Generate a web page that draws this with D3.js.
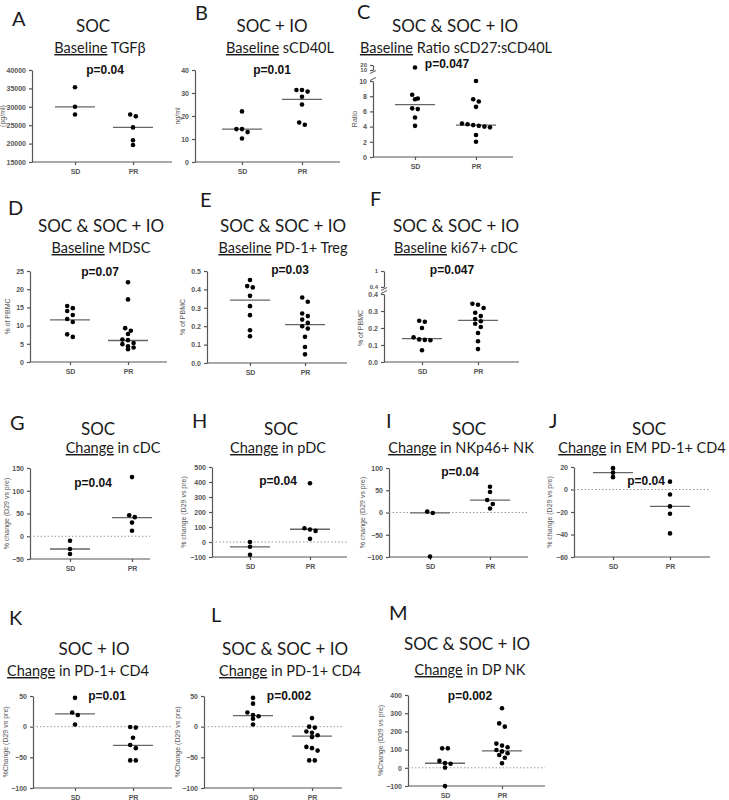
<!DOCTYPE html>
<html>
<head>
<meta charset="utf-8">
<script src="https://cdn.jsdelivr.net/npm/d3@7"></script>
<style>
  body { margin: 0; background: #fff; }
  .ttl { font-family: Lato, "Open Sans", sans-serif; fill: #1a1a1a; }
  .pv { font-family: "Liberation Sans", Arial, sans-serif; font-weight: bold; fill: #111; }
  .ax { color: #555; }
  .ax text { font-family: "Liberation Sans", Arial, sans-serif; font-weight: bold; font-size: 7px; fill: #555; }
  .ax path, .ax line { stroke: #555; stroke-width: 1.2; }
</style>
</head>
<body>
<svg id="fig" width="729" height="800"></svg>
<script>
var groups = ["SD", "PR"];

// A - baseline TGFb (SOC)
var tgfbSD = [35300, 30000, 27900];
var tgfbPR = [27900, 27400, 24400, 20900, 19600];
var tgfbMed = [30000, 24400];
var tgfbTicks = [15000, 20000, 25000, 30000, 35000, 40000];

// B - baseline sCD40L (SOC + IO)
var scd40SD = [22, 14.3, 13, 14.3, 10.2];
var scd40PR = [31.3, 30.6, 31.3, 28.4, 25, 16.2, 17.2];
var scd40Med = [14.3, 27.2];
var scd40Ticks = [0, 10, 20, 30, 40];

// C - ratio sCD27:sCD40L
var ratioSD = [15, 8.2, 7.7, 7.6, 6.4, 6.3, 5.2, 4.1];
var ratioPR = [10, 7.6, 7.3, 6.6, 4.4, 4.3, 4.2, 4.1, 4.0, 3.9, 2.9, 2.0];
var ratioMed = [6.9, 4.2];
var ratioTicks = [0, 2, 4, 6, 8, 10];
var ratioTicksTop = [10, 20];

// D - MDSC
var mdscSD = [15.4, 14.8, 14.0, 12.9, 11.8, 11.0, 7.6, 6.9];
var mdscPR = [21.9, 17.2, 9.3, 8.6, 7.7, 6.2, 6.0, 5.2, 4.9, 4.3, 4.0, 3.5];
var mdscMed = [11.6, 5.9];
var mdscTicks = [0, 5, 10, 15, 20, 25];

// E - PD-1+ Treg
var tregSD = [0.451, 0.418, 0.411, 0.365, 0.309, 0.26, 0.178, 0.145];
var tregPR = [0.356, 0.333, 0.269, 0.255, 0.236, 0.218, 0.200, 0.187, 0.142, 0.087, 0.047];
var tregMed = [0.342, 0.209];
var tregTicks = [0, 0.1, 0.2, 0.3, 0.4, 0.5];

// F - ki67+ cDC
var kiSD = [0.243, 0.237, 0.200, 0.145, 0.133, 0.130, 0.128, 0.069];
var kiPR = [0.343, 0.337, 0.318, 0.29, 0.27, 0.253, 0.24, 0.225, 0.206, 0.171, 0.122, 0.076];
var kiMed = [0.137, 0.245];
var kiTicks = [0, 0.1, 0.2, 0.3, 0.4];
var kiTicksTop = [0.4, 1];

// G - change in cDC
var cdcSD = [-10, -28, -39];
var cdcPR = [130, 46, 42, 30, 12];
var cdcMed = [-28, 41];
var cdcTicks = [-50, 0, 50, 100, 150];

// H - change in pDC
var pdcSD = [0, -32, -85];
var pdcPR = [392, 92, 83, 74, 21];
var pdcMed = [-32, 85];
var pdcTicks = [-100, 0, 100, 200, 300, 400, 500];

// I - change in NKp46+ NK
var nkSD = [2, -1, -99];
var nkPR = [58, 46, 28, 19, 9];
var nkMed = [-1, 28];
var nkTicks = [-100, -50, 0, 50, 100];

// J - change in EM PD-1+ CD4
var emSD = [19, 15, 11];
var emPR = [7, -4.5, -15, -21.5, -39];
var emMed = [15, -15];
var emTicks = [-60, -40, -20, 0, 20];

// K - change in PD-1+ CD4 (SOC + IO)
var pd1SD = [47, 23, 19, 3.6];
var pd1PR = [-0.5, -1.5, -18, -30, -35, -55, -55];
var pd1Med = [21, -30.5];
var pd1Ticks = [-100, -50, 0, 50];

// L - change in PD-1+ CD4 (all)
var pd1allSD = [47, 37.5, 23, 19, 17, 13, 3.6];
var pd1allPR = [14, 0, -1.5, -8, -10, -14, -17, -33, -35, -39, -55, -55];
var pd1allMed = [18, -15.5];

// M - change in DP NK
var dpSD = [107, 107, 38, 26, 22, 1, -100];
var dpPR = [327, 244, 226, 133, 122, 113, 98, 90, 80, 70, 55, 25];
var dpMed = [25, 93];
var dpTicks = [-100, 0, 100, 200, 300, 400];

var svg = d3.select("#fig");

var panels = [
  { letter: "A", lx: 12, ly: 26, title: "SOC", tx: 93, ty: 32, head: "Baseline", sub: "TGFβ", sx: 100, sy: 53,
    p: "p=0.04", px: 105, py: 74, x0: 32, x1: 172, sdX: 75, prX: 133, yB: 162, yT: 70, dom: [15000, 40000],
    ticks: tgfbTicks, fmt: "d", ylab: "(pg/ml)", lOff: 27, sd: tgfbSD, pr: tgfbPR, med: tgfbMed },
  { letter: "B", lx: 195, ly: 20, title: "SOC + IO", tx: 272, ty: 32, head: "Baseline", sub: "sCD40L", sx: 280, sy: 53,
    p: "p=0.01", px: 272, py: 74, x0: 195, x1: 340, sdX: 242, prX: 302, yB: 162, yT: 70, dom: [0, 40],
    ticks: scd40Ticks, ylab: "ng/ml", lOff: 15, sd: scd40SD, pr: scd40PR, med: scd40Med },
  { letter: "C", lx: 357, ly: 19, title: "SOC & SOC + IO", tx: 455, ty: 32, head: "Baseline", sub: "Ratio sCD27:sCD40L", sx: 456, sy: 53,
    p: "p=0.047", px: 447, py: 68, x0: 373, x1: 513, sdX: 415, prX: 476, yB: 157, yT: 81, dom: [0, 10],
    ticks: ratioTicks, ylab: "Ratio", lOff: 16, sd: ratioSD, pr: ratioPR, med: ratioMed,
    brk: { v: 10, dom: [10, 20], yB: 70, yT: 65, ticks: ratioTicksTop } },
  { letter: "D", lx: 8, ly: 215, title: "SOC & SOC + IO", tx: 101, ty: 232, head: "Baseline", sub: "MDSC", sx: 101, sy: 253,
    p: "p=0.07", px: 100, py: 276, x0: 30, x1: 167, sdX: 70, prX: 128, yB: 362, yT: 271, dom: [0, 25],
    ticks: mdscTicks, ylab: "% of PBMC", lOff: 20, sd: mdscSD, pr: mdscPR, med: mdscMed },
  { letter: "E", lx: 200, ly: 207, title: "SOC & SOC + IO", tx: 283, ty: 232, head: "Baseline", sub: "PD-1+ Treg", sx: 283, sy: 253,
    p: "p=0.03", px: 290, py: 274, x0: 207, x1: 347, sdX: 250, prX: 305, yB: 363, yT: 271, dom: [0, 0.5],
    ticks: tregTicks, fmt: ".1f", ylab: "% of PBMC", lOff: 22, sd: tregSD, pr: tregPR, med: tregMed },
  { letter: "F", lx: 370, ly: 206, title: "SOC & SOC + IO", tx: 456, ty: 232, head: "Baseline", sub: "ki67+ cDC", sx: 456, sy: 253,
    p: "p=0.047", px: 452, py: 274, x0: 384, x1: 519, sdX: 422, prX: 478, yB: 362, yT: 294, dom: [0, 0.4],
    ticks: kiTicks, fmt: ".1f", ylab: "% of PBMC", lOff: 21, sd: kiSD, pr: kiPR, med: kiMed,
    brk: { v: 0.4, dom: [0.4, 1], yB: 287, yT: 271, ticks: kiTicksTop } },
  { letter: "G", lx: 10, ly: 430, title: "SOC", tx: 98, ty: 435, head: "Change", sub: "in cDC", sx: 113, sy: 453,
    p: "p=0.04", px: 93, py: 487, x0: 30, x1: 150, sdX: 70, prX: 132, yB: 559, yT: 468, dom: [-50, 150],
    ticks: cdcTicks, ylab: "% change (D29 vs pre)", lOff: 21, zero: true, sd: cdcSD, pr: cdcPR, med: cdcMed },
  { letter: "H", lx: 192, ly: 428, title: "SOC", tx: 281, ty: 435, head: "Change", sub: "in pDC", sx: 278, sy: 453,
    p: "p=0.04", px: 278, py: 485, x0: 212, x1: 347, sdX: 250, prX: 310, yB: 557, yT: 467, dom: [-100, 500],
    ticks: pdcTicks, ylab: "% change (D29 vs pre)", lOff: 26, zero: true, sd: pdcSD, pr: pdcPR, med: pdcMed },
  { letter: "I", lx: 386, ly: 428, title: "SOC", tx: 469, ty: 435, head: "Change", sub: "in NKp46+ NK", sx: 461, sy: 453,
    p: "p=0.04", px: 460, py: 476, x0: 389, x1: 528, sdX: 430, prX: 490, yB: 557, yT: 468, dom: [-100, 100],
    ticks: nkTicks, ylab: "% change (D29 vs pre)", lOff: 24, zero: true, sd: nkSD, pr: nkPR, med: nkMed },
  { letter: "J", lx: 549, ly: 428, title: "SOC", tx: 649, ty: 435, head: "Change", sub: "in EM PD-1+ CD4", sx: 642, sy: 453,
    p: "p=0.04", px: 646, py: 485, x0: 574, x1: 710, sdX: 613, prX: 670, yB: 557, yT: 467, dom: [-60, 20],
    ticks: emTicks, ylab: "% change (D29 vs pre)", lOff: 22, zero: true, sd: emSD, pr: emPR, med: emMed },
  { letter: "K", lx: 9, ly: 625, title: "SOC + IO", tx: 94, ty: 655, head: "Change", sub: "in PD-1+ CD4", sx: 78, sy: 676,
    p: "p=0.01", px: 107, py: 700, x0: 33, x1: 172, sdX: 75, prX: 133, yB: 788, yT: 696, dom: [-100, 50],
    ticks: pd1Ticks, ylab: "%Change (D29 vs pre)", lOff: 25, zero: true, sd: pd1SD, pr: pd1PR, med: pd1Med },
  { letter: "L", lx: 211, ly: 622, title: "SOC & SOC + IO", tx: 285, ty: 655, head: "Change", sub: "in PD-1+ CD4", sx: 290, sy: 676,
    p: "p=0.002", px: 289, py: 700, x0: 204, x1: 342, sdX: 253, prX: 312, yB: 788, yT: 696, dom: [-100, 50],
    ticks: pd1Ticks, ylab: "%Change (D29 vs pre)", lOff: 24, zero: true, sd: pd1allSD, pr: pd1allPR, med: pd1allMed },
  { letter: "M", lx: 389, ly: 620, title: "SOC & SOC + IO", tx: 467, ty: 650, head: "Change", sub: "in DP NK", sx: 470, sy: 675,
    p: "p=0.002", px: 470, py: 700, x0: 408, x1: 545, sdX: 445, prX: 502, yB: 786, yT: 695, dom: [-100, 400],
    ticks: dpTicks, ylab: "%Change (D29 vs pre)", lOff: 25, zero: true, sd: dpSD, pr: dpPR, med: dpMed }
];

// spread overlapping dots sideways, Prism style
function swarm(vals, cx, yf) {
  var pts = vals.map(v => ({ v: v, y: yf(v) })).sort((a, b) => a.y - b.y);
  var rows = [], cur = null;
  pts.forEach(p => {
    if (cur && p.y - cur[0].y < 4.4) cur.push(p);
    else { cur = [p]; rows.push(cur); }
  });
  var out = [];
  rows.forEach(r => r.forEach((p, i) => out.push({ x: cx + (i - (r.length - 1) / 2) * 5.6, y: p.y })));
  return out;
}

function drawPanel(c) {
  var g = svg.append("g");

  g.append("text").attr("class", "ttl").attr("x", c.lx).attr("y", c.ly)
    .style("font-size", "20px").text(c.letter);
  g.append("text").attr("class", "ttl").attr("x", c.tx).attr("y", c.ty)
    .attr("text-anchor", "middle").style("font-size", "17px").text(c.title);
  var st = g.append("text").attr("class", "ttl").attr("x", c.sx).attr("y", c.sy)
    .attr("text-anchor", "middle").style("font-size", "14.5px");
  st.append("tspan").style("text-decoration", "underline").text(c.head);
  st.append("tspan").text(" " + c.sub);
  g.append("text").attr("class", "pv").attr("x", c.px).attr("y", c.py)
    .attr("text-anchor", "middle").style("font-size", "12px").text(c.p);

  var x = d3.scalePoint().domain(groups).range([c.sdX, c.prX]);
  var y = d3.scaleLinear().domain(c.dom).range([c.yB, c.yT]);
  var yTop = c.brk ? d3.scaleLinear().domain(c.brk.dom).range([c.brk.yB, c.brk.yT]) : null;
  var yf = v => (c.brk && v > c.brk.v) ? yTop(v) : y(v);

  var yAxis = d3.axisLeft(y).tickValues(c.ticks).tickSize(3).tickSizeOuter(0);
  if (c.fmt) yAxis.tickFormat(d3.format(c.fmt));
  g.append("g").attr("class", "ax").attr("transform", "translate(" + c.x0 + ",0)").call(yAxis);

  if (c.brk) {
    var topAxis = d3.axisLeft(yTop).tickValues(c.brk.ticks).tickSize(3).tickSizeOuter(0)
      .tickFormat(d3.format("~g"));
    var tg = g.append("g").attr("class", "ax").attr("transform", "translate(" + c.x0 + ",0)").call(topAxis);
    tg.selectAll("text").style("font-size", "6px");
    // small slashes marking the axis break
    [c.brk.yB + 2, c.yT - 2].forEach(yy => {
      g.append("line").attr("x1", c.x0 - 3).attr("x2", c.x0 + 3).attr("y1", yy + 1.5).attr("y2", yy - 1.5)
        .attr("stroke", "#555").attr("stroke-width", 1);
    });
  }

  g.append("line").attr("x1", c.x0).attr("x2", c.x1).attr("y1", c.yB).attr("y2", c.yB)
    .attr("stroke", "#555").attr("stroke-width", 1.2);
  var xAxis = d3.axisBottom(x).tickSize(3).tickSizeOuter(0);
  var xg = g.append("g").attr("class", "ax").attr("transform", "translate(0," + c.yB + ")").call(xAxis);
  xg.select(".domain").remove();
  xg.selectAll("text").attr("dy", "0.9em");

  g.append("text")
    .attr("transform", "translate(" + (c.x0 - c.lOff) + "," + ((c.yB + c.yT) / 2) + ") rotate(-90)")
    .attr("text-anchor", "middle")
    .style("font-family", "'Liberation Sans', Arial, sans-serif").style("font-size", "7px").style("fill", "#555")
    .text(c.ylab);

  if (c.zero) {
    g.append("line").attr("x1", c.x0).attr("x2", c.x1).attr("y1", y(0)).attr("y2", y(0))
      .attr("stroke", "#999").attr("stroke-width", 1).attr("stroke-dasharray", "1.5,2");
  }

  g.selectAll(".med").data(c.med).enter().append("line")
    .attr("x1", (d, i) => x(groups[i]) - 20).attr("x2", (d, i) => x(groups[i]) + 20)
    .attr("y1", d => yf(d)).attr("y2", d => yf(d))
    .attr("stroke", "#666").attr("stroke-width", 1.3);

  [c.sd, c.pr].forEach((vals, i) => {
    g.selectAll(null).data(swarm(vals, x(groups[i]), yf)).enter().append("circle")
      .attr("cx", d => d.x).attr("cy", d => d.y).attr("r", 2.3).attr("fill", "#000");
  });
}

panels.forEach(drawPanel);
</script>
</body>
</html>
